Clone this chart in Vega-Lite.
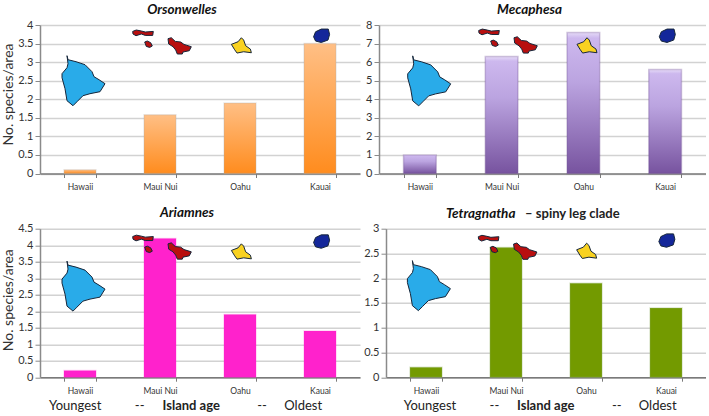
{"$schema":"https://vega.github.io/schema/vega-lite/v6.json","padding":{"left":1,"right":0,"top":2,"bottom":0},"background":"white","spacing":14.7,
"config":{"font":"Lato","view":{"stroke":null},"axisY":{"grid":true,"gridColor":"#d2d2d2","gridWidth":1.5,"domainColor":"#8a8a8a","domainWidth":1.5,"tickColor":"#8a8a8a","tickSize":5,"labelColor":"#333333","labelFontSize":11,"labelPadding":2,"titleFontSize":14,"titleFontWeight":"normal","titleColor":"#333333","titlePadding":2,"format":"~g"},"axisX":{"grid":false,"domainColor":"#7a7a7a","domainWidth":1.5,"tickColor":"#7a7a7a","tickSize":4,"labelColor":"#333333","labelFontSize":8.5,"labelPadding":5,"labelAngle":0,"tickBand":"extent"},"title":{"font":"Lato","fontSize":13.5,"fontWeight":"bold","fontStyle":"italic","color":"#111111"}},
"datasets":{
"o":[{"island":"Hawaii","value":0.1},{"island":"Maui Nui","value":1.58},{"island":"Oahu","value":1.9},{"island":"Kauai","value":3.5}],
"oi":[{"group":"Hawaii","pos":0.5375,"value":2.5},{"group":"Maui Nui","pos":1.525,"value":3.55},{"group":"Oahu","pos":2.517,"value":3.46},{"group":"Kauai","pos":3.516,"value":3.71}],
"m":[{"island":"Hawaii","value":1},{"island":"Maui Nui","value":6.3},{"island":"Oahu","value":7.6},{"island":"Kauai","value":5.6}],
"mi":[{"group":"Hawaii","pos":0.608,"value":4.99},{"group":"Maui Nui","pos":1.578,"value":7.15},{"group":"Oahu","pos":2.544,"value":6.92},{"group":"Kauai","pos":3.523,"value":7.42}],
"a":[{"island":"Hawaii","value":0.2},{"island":"Maui Nui","value":4.2},{"island":"Oahu","value":1.9},{"island":"Kauai","value":1.4}],
"ai":[{"group":"Hawaii","pos":0.5375,"value":2.76},{"group":"Maui Nui","pos":1.525,"value":3.95},{"group":"Oahu","pos":2.517,"value":3.82},{"group":"Kauai","pos":3.516,"value":4.11}],
"t":[{"island":"Hawaii","value":0.2},{"island":"Maui Nui","value":2.62},{"island":"Oahu","value":1.9},{"island":"Kauai","value":1.4}],
"ti":[{"group":"Hawaii","pos":0.53,"value":1.85},{"group":"Maui Nui","pos":1.52,"value":2.63},{"group":"Oahu","pos":2.508,"value":2.56},{"group":"Kauai","pos":3.507,"value":2.76}],
"an":[{"label":"Youngest","pos":0.44,"value":-0.88},{"label":"--","pos":1.246,"value":-0.88},{"label":"--","pos":2.775,"value":-0.88},{"label":"Oldest","pos":3.29,"value":-0.88}],
"anb":[{"label":"Island age","pos":1.89,"value":-0.88}],
"tn":[{"label":"Youngest","pos":0.55,"value":-0.585},{"label":"--","pos":1.355,"value":-0.585},{"label":"--","pos":2.884,"value":-0.585},{"label":"Oldest","pos":3.396,"value":-0.585}],
"tnb":[{"label":"Island age","pos":1.996,"value":-0.585},{"label":"– spiny leg clade","pos":2.33,"value":3.305}],
"tnt":[{"label":"Tetragnatha","pos":1.184,"value":3.305}]
},
"vconcat":[
{"hconcat":[
{"width":320,"height":148.5,"title":{"text":"Orsonwelles","dx":-18,"offset":3},"resolve":{"scale":{"x":"independent"}},"encoding":{"y":{"field":"value","type":"quantitative","scale":{"domain":[0,4],"nice":false},"axis":{"title":"No. species/area","titleY":69,"values":[0,0.5,1,1.5,2,2.5,3,3.5,4]}}},"layer":[
{"data":{"name":"o"},"mark":{"type":"bar","stroke":"#aaaaaa","strokeOpacity":0.25,"strokeWidth":1.5,"color":{"x1":0,"y1":0,"x2":0,"y2":1,"gradient":"linear","stops":[{"offset":0,"color":"#FFBF85"},{"offset":1,"color":"#FF8C1E"}]}},"encoding":{"x":{"field":"island","type":"nominal","sort":["Hawaii","Maui Nui","Oahu","Kauai"],"scale":{"paddingInner":0.6,"paddingOuter":0.3},"axis":{"title":null}}}},
{"data":{"name":"oi"},"mark":{"type":"point","filled":true,"size":4,"opacity":1,"stroke":"#16263a","strokeWidth":1},"encoding":{"x":{"field":"pos","type":"quantitative","scale":{"domain":[0,4],"nice":false,"zero":false},"axis":null},"shape":{"field":"group","type":"nominal","legend":null,"scale":{"domain":["Hawaii","Maui Nui","Oahu","Kauai"],"range":["M-16,-25L-15,-21L-7,-19L2,-16L9,-9L11,-4L16,-1L22,3L17,11L7,13L0,15L-6,21L-10,25L-16,20L-18,8L-21,-3L-21,-7L-16,-13L-15,-17Z","M-29.3,-10.3L-25.7,-11.7L-20.7,-10.7L-16.7,-9.7L-8.7,-10.3L-9.3,-6.3L-16.7,-6.3L-20.7,-7.7L-26,-6L-29,-7.7ZM-17.3,.3L-14.7,-.7L-11.3,1L-9.7,4.3L-12.3,5.7L-15.7,4.7ZM6,-3L9.3,-4L13.3,-.3L18.7,.3L22,2.7L29.3,5L27.3,9L21,10.3L20.3,12.3L15.3,12.3L13.7,8.3L11,5L6.7,2.3Z","M-10,-.7L-3.3,-3.3L0,-7.3L2.3,-5L4.3,.7L9,4L10,7.7L2.3,6.7L-4.3,8L-6.7,4.7Z","M-7.7,1L-5.7,-4L0,-6.7L7,-6.7L8.3,-1.3L6.7,4.3L0,6.7L-5.7,5.3Z"]}},"color":{"field":"group","type":"nominal","legend":null,"scale":{"domain":["Hawaii","Maui Nui","Oahu","Kauai"],"range":["#29ABE9","#B80F0F","#F9D221","#14279A"]}}}}
]},
{"width":327,"height":148.5,"title":{"text":"Mecaphesa","dx":-13,"offset":3},"resolve":{"scale":{"x":"independent"}},"encoding":{"y":{"field":"value","type":"quantitative","scale":{"domain":[0,8],"nice":false},"axis":{"title":null,"values":[0,1,2,3,4,5,6,7,8]}}},"layer":[
{"data":{"name":"m"},"mark":{"type":"bar","stroke":"#6a4a90","strokeOpacity":0.3,"strokeWidth":1.5,"color":{"x1":0,"y1":0,"x2":0,"y2":1,"gradient":"linear","stops":[{"offset":0,"color":"#E6DCF7"},{"offset":0.04,"color":"#CDB8EE"},{"offset":0.35,"color":"#BBA4E0"},{"offset":1,"color":"#77539F"}]}},"encoding":{"x":{"field":"island","type":"nominal","sort":["Hawaii","Maui Nui","Oahu","Kauai"],"scale":{"paddingInner":0.6,"paddingOuter":0.3},"axis":{"title":null}}}},
{"data":{"name":"mi"},"mark":{"type":"point","filled":true,"size":4,"opacity":1,"stroke":"#16263a","strokeWidth":1},"encoding":{"x":{"field":"pos","type":"quantitative","scale":{"domain":[0,4],"nice":false,"zero":false},"axis":null},"shape":{"field":"group","type":"nominal","legend":null,"scale":{"domain":["Hawaii","Maui Nui","Oahu","Kauai"],"range":["M-16,-25L-15,-21L-7,-19L2,-16L9,-9L11,-4L16,-1L22,3L17,11L7,13L0,15L-6,21L-10,25L-16,20L-18,8L-21,-3L-21,-7L-16,-13L-15,-17Z","M-29.3,-10.3L-25.7,-11.7L-20.7,-10.7L-16.7,-9.7L-8.7,-10.3L-9.3,-6.3L-16.7,-6.3L-20.7,-7.7L-26,-6L-29,-7.7ZM-17.3,.3L-14.7,-.7L-11.3,1L-9.7,4.3L-12.3,5.7L-15.7,4.7ZM6,-3L9.3,-4L13.3,-.3L18.7,.3L22,2.7L29.3,5L27.3,9L21,10.3L20.3,12.3L15.3,12.3L13.7,8.3L11,5L6.7,2.3Z","M-10,-.7L-3.3,-3.3L0,-7.3L2.3,-5L4.3,.7L9,4L10,7.7L2.3,6.7L-4.3,8L-6.7,4.7Z","M-7.7,1L-5.7,-4L0,-6.7L7,-6.7L8.3,-1.3L6.7,4.3L0,6.7L-5.7,5.3Z"]}},"color":{"field":"group","type":"nominal","legend":null,"scale":{"domain":["Hawaii","Maui Nui","Oahu","Kauai"],"range":["#29ABE9","#B80F0F","#F9D221","#14279A"]}}}}
]}
],"spacing":19,"bounds":"flush"},
{"hconcat":[
{"width":320,"height":148.5,"title":{"text":"Ariamnes","dx":-13,"offset":3},"resolve":{"scale":{"x":"independent"}},"encoding":{"y":{"field":"value","type":"quantitative","scale":{"domain":[0,4.5],"nice":false},"axis":{"title":"No. species/area","titleY":71,"values":[0,0.5,1,1.5,2,2.5,3,3.5,4,4.5]}}},"layer":[
{"data":{"name":"a"},"mark":{"type":"bar","color":"#FF22CC","stroke":"#ff22cc","strokeOpacity":0.2,"strokeWidth":1.5},"encoding":{"x":{"field":"island","type":"nominal","sort":["Hawaii","Maui Nui","Oahu","Kauai"],"scale":{"paddingInner":0.6,"paddingOuter":0.3},"axis":{"title":null}}}},
{"data":{"name":"ai"},"mark":{"type":"point","filled":true,"size":4,"opacity":1,"stroke":"#16263a","strokeWidth":1},"encoding":{"x":{"field":"pos","type":"quantitative","scale":{"domain":[0,4],"nice":false,"zero":false},"axis":null},"shape":{"field":"group","type":"nominal","legend":null,"scale":{"domain":["Hawaii","Maui Nui","Oahu","Kauai"],"range":["M-16,-25L-15,-21L-7,-19L2,-16L9,-9L11,-4L16,-1L22,3L17,11L7,13L0,15L-6,21L-10,25L-16,20L-18,8L-21,-3L-21,-7L-16,-13L-15,-17Z","M-29.3,-10.3L-25.7,-11.7L-20.7,-10.7L-16.7,-9.7L-8.7,-10.3L-9.3,-6.3L-16.7,-6.3L-20.7,-7.7L-26,-6L-29,-7.7ZM-17.3,.3L-14.7,-.7L-11.3,1L-9.7,4.3L-12.3,5.7L-15.7,4.7ZM6,-3L9.3,-4L13.3,-.3L18.7,.3L22,2.7L29.3,5L27.3,9L21,10.3L20.3,12.3L15.3,12.3L13.7,8.3L11,5L6.7,2.3Z","M-10,-.7L-3.3,-3.3L0,-7.3L2.3,-5L4.3,.7L9,4L10,7.7L2.3,6.7L-4.3,8L-6.7,4.7Z","M-7.7,1L-5.7,-4L0,-6.7L7,-6.7L8.3,-1.3L6.7,4.3L0,6.7L-5.7,5.3Z"]}},"color":{"field":"group","type":"nominal","legend":null,"scale":{"domain":["Hawaii","Maui Nui","Oahu","Kauai"],"range":["#29ABE9","#B80F0F","#F9D221","#14279A"]}}}},
{"data":{"name":"an"},"mark":{"type":"text","fontSize":13,"color":"#222222"},"encoding":{"x":{"field":"pos","type":"quantitative","scale":{"domain":[0,4],"nice":false,"zero":false},"axis":null},"text":{"field":"label"}}},
{"data":{"name":"anb"},"mark":{"type":"text","fontSize":13,"fontWeight":"bold","color":"#222222"},"encoding":{"x":{"field":"pos","type":"quantitative","scale":{"domain":[0,4],"nice":false,"zero":false},"axis":null},"text":{"field":"label"}}}
]},
{"width":320,"height":148.5,"resolve":{"scale":{"x":"independent"}},"encoding":{"y":{"field":"value","type":"quantitative","scale":{"domain":[0,3],"nice":false},"axis":{"title":null,"values":[0,0.5,1,1.5,2,2.5,3]}}},"layer":[
{"data":{"name":"t"},"mark":{"type":"bar","color":"#739A00","stroke":"#8fae60","strokeOpacity":0.3,"strokeWidth":1.5},"encoding":{"x":{"field":"island","type":"nominal","sort":["Hawaii","Maui Nui","Oahu","Kauai"],"scale":{"paddingInner":0.6,"paddingOuter":0.3},"axis":{"title":null}}}},
{"data":{"name":"ti"},"mark":{"type":"point","filled":true,"size":4,"opacity":1,"stroke":"#16263a","strokeWidth":1},"encoding":{"x":{"field":"pos","type":"quantitative","scale":{"domain":[0,4],"nice":false,"zero":false},"axis":null},"shape":{"field":"group","type":"nominal","legend":null,"scale":{"domain":["Hawaii","Maui Nui","Oahu","Kauai"],"range":["M-16,-25L-15,-21L-7,-19L2,-16L9,-9L11,-4L16,-1L22,3L17,11L7,13L0,15L-6,21L-10,25L-16,20L-18,8L-21,-3L-21,-7L-16,-13L-15,-17Z","M-29.3,-10.3L-25.7,-11.7L-20.7,-10.7L-16.7,-9.7L-8.7,-10.3L-9.3,-6.3L-16.7,-6.3L-20.7,-7.7L-26,-6L-29,-7.7ZM-17.3,.3L-14.7,-.7L-11.3,1L-9.7,4.3L-12.3,5.7L-15.7,4.7ZM6,-3L9.3,-4L13.3,-.3L18.7,.3L22,2.7L29.3,5L27.3,9L21,10.3L20.3,12.3L15.3,12.3L13.7,8.3L11,5L6.7,2.3Z","M-10,-.7L-3.3,-3.3L0,-7.3L2.3,-5L4.3,.7L9,4L10,7.7L2.3,6.7L-4.3,8L-6.7,4.7Z","M-7.7,1L-5.7,-4L0,-6.7L7,-6.7L8.3,-1.3L6.7,4.3L0,6.7L-5.7,5.3Z"]}},"color":{"field":"group","type":"nominal","legend":null,"scale":{"domain":["Hawaii","Maui Nui","Oahu","Kauai"],"range":["#29ABE9","#B80F0F","#F9D221","#14279A"]}}}},
{"data":{"name":"tn"},"mark":{"type":"text","fontSize":13,"color":"#222222"},"encoding":{"x":{"field":"pos","type":"quantitative","scale":{"domain":[0,4],"nice":false,"zero":false},"axis":null},"text":{"field":"label"}}},
{"data":{"name":"tnb"},"mark":{"type":"text","fontSize":13,"fontWeight":"bold","color":"#222222"},"encoding":{"x":{"field":"pos","type":"quantitative","scale":{"domain":[0,4],"nice":false,"zero":false},"axis":null},"text":{"field":"label"}}},
{"data":{"name":"tnt"},"mark":{"type":"text","fontSize":13.5,"fontWeight":"bold","fontStyle":"italic","color":"#111111"},"encoding":{"x":{"field":"pos","type":"quantitative","scale":{"domain":[0,4],"nice":false,"zero":false},"axis":null},"text":{"field":"label"}}}
]}
],"spacing":26,"bounds":"flush"}
]}
